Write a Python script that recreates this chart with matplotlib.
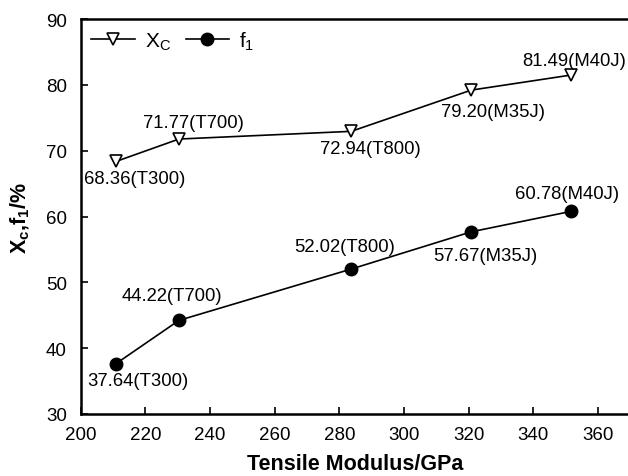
import matplotlib.pyplot as plt

plt.rcParams['font.family'] = ['Liberation Sans', 'DejaVu Sans']
plt.rcParams['mathtext.fontset'] = 'custom'
plt.rcParams['mathtext.rm'] = 'Liberation Sans'
plt.rcParams['mathtext.it'] = 'Liberation Sans'
plt.rcParams['mathtext.bf'] = 'Liberation Sans:bold'

# dados
modulo = [210.9, 230.4, 283.7, 320.8, 351.7]
fibras = ['T300', 'T700', 'T800', 'M35J', 'M40J']
xc = [68.36, 71.77, 72.94, 79.20, 81.49]
f1 = [37.64, 44.22, 52.02, 57.67, 60.78]

# deslocamento dos rotulos (pixels)
off_xc = [(19, -17), (14, 17), (19, -17), (22, -21), (3, 15)]
off_f1 = [(22, -17), (-7, 25), (-7, 23), (14, -24), (-4, 18)]

fig = plt.figure(figsize=(6.28, 4.77), dpi=100)
ax = fig.add_axes([0.1285, 0.130, 0.875, 0.828])

ax.plot(modulo, xc, color='black', lw=1.2, marker='v', ms=8,
        mfc='white', mec='black', mew=1.2, label=r'X$_\mathrm{C}$')
ax.plot(modulo, f1, color='black', lw=1.2, marker='o', ms=9,
        mfc='black', mec='black', label=r'f$_\mathrm{1}$')

for x, y, nome, off in zip(modulo, xc, fibras, off_xc):
    ax.annotate(f'{y:.2f}({nome})', (x, y), xytext=off, textcoords='offset pixels',
                ha='center', va='center', fontsize=13.3)
for x, y, nome, off in zip(modulo, f1, fibras, off_f1):
    ax.annotate(f'{y:.2f}({nome})', (x, y), xytext=off, textcoords='offset pixels',
                ha='center', va='center', fontsize=13.3)

ax.set_xlim(200, 370)
ax.set_ylim(30, 90)
ax.set_xticks(range(200, 361, 20))
ax.set_yticks(range(30, 91, 10))
ax.tick_params(direction='in', labelsize=13.5, width=1.2, length=5)
ax.tick_params(axis='x', pad=9)
ax.tick_params(axis='y', pad=10)
for s in ax.spines.values():
    s.set_linewidth(1.8)

ax.set_xlabel('Tensile Modulus/GPa', fontsize=15.5, fontweight='bold', labelpad=7)
ax.set_ylabel(r'X$_\mathbf{c}$,f$_\mathbf{1}$/%', fontsize=15.5, fontweight='bold', labelpad=10)

ax.legend(loc='upper left', ncol=2, frameon=False, fontsize=15, handlelength=2.1,
          borderaxespad=0.1, columnspacing=0.7, handletextpad=0.48)

plt.savefig('out.png', dpi=100)
